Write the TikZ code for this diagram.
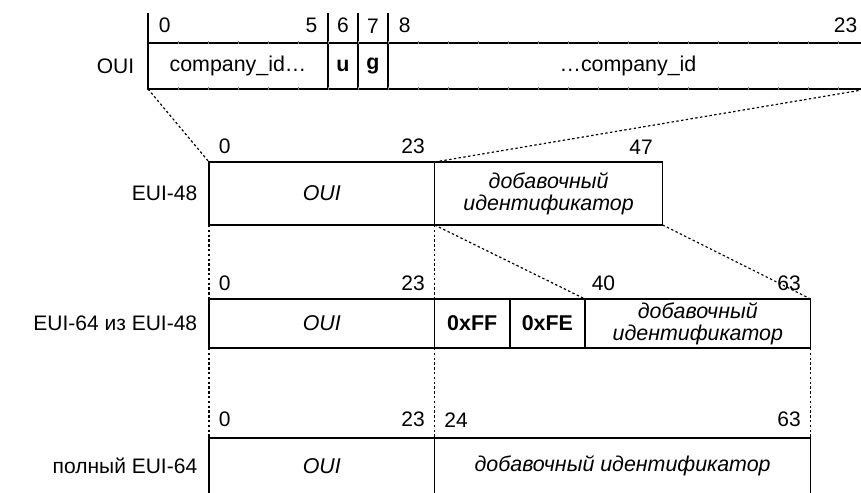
\documentclass[tikz,border=0pt]{standalone}
\usepackage{fontspec}
\setmainfont{Liberation Sans}
\usetikzlibrary{positioning}

\tikzset{
  field/.style={draw, outer sep=0pt, inner sep=0pt, align=center,
    font=\fontsize{10.7}{11}\selectfont},
  num/.style={inner sep=0pt, font=\fontsize{10.5}{12}\selectfont},
  dots/.style={line width=0.6pt, dash pattern=on 1.2pt off 1.2pt},
}

\begin{document}
\begin{tikzpicture}[x=0.5pt, y=0.5pt, line width=0.8pt]
\useasboundingbox (0,0) rectangle (861,492);

% OUI, bit by bit
\node[field, anchor=north west, minimum width=90pt, minimum height=23pt] (cid1) at (148,449) {company\_id…};
\node[field, right=0pt of cid1, minimum width=15pt, minimum height=23pt] (u) {\textbf{u}};
\node[field, right=0pt of u, minimum width=15pt, minimum height=23pt] (g) {\textbf{g}};
\node[field, right=0pt of g, minimum width=240pt, minimum height=23pt] (cid2) {…company\_id};
\node[num, left=6.5pt of cid1] (oui) {OUI};
\foreach \n in {cid1,u,g,cid2}
  \draw (\n.north west) -- ++(0,30);
\foreach \k in {1,...,23}
  \draw[gray, line width=0.4pt] (148+30*\k,447.5) -- ++(0,3) (148+30*\k,401.5) -- ++(0,3);
\node[num, above right=4.5pt and 5pt of cid1.north west] (b0) {0};
\node[num, above left=4.5pt and 5pt of cid1.north east] (b5) {5};
\node[num, above=4.5pt of u.north] (b6) {6};
\node[num, above=4.5pt of g.north] (b7) {7};
\node[num, above right=4.5pt and 5pt of cid2.north west] (b8) {8};
\node[num, above left=4.5pt and 5pt of cid2.north east] (b23) {23};

% EUI-48
\node[field, anchor=north west, minimum width=112.8pt, minimum height=31.5pt] (e48oui) at (209,330) {\itshape OUI};
\node[field, right=0pt of e48oui, minimum width=114pt, minimum height=31.5pt] (e48ext) {\itshape добавочный\\\itshape идентификатор};
\node[num, left=5.5pt of e48oui] (l48) {EUI-48};
\node[num, above right=3.5pt and 4.5pt of e48oui.north west] (e48n0) {0};
\node[num, above left=3.5pt and 4.5pt of e48oui.north east] (e48n23) {23};
\node[num, above left=3.5pt and 4.5pt of e48ext.north east] (e48n47) {47};

% EUI-64 из EUI-48
\node[field, anchor=north west, minimum width=112.8pt, minimum height=24.5pt] (e64oui) at (209,193) {\itshape OUI};
\node[field, right=0pt of e64oui, minimum width=37.6pt, minimum height=24.5pt] (ff) {\textbf{0xFF}};
\node[field, right=0pt of ff, minimum width=37.6pt, minimum height=24.5pt] (fe) {\textbf{0xFE}};
\node[field, right=0pt of fe, minimum width=112.8pt, minimum height=24.5pt] (e64ext) {\itshape добавочный\\\itshape идентификатор};
\node[num, left=5.5pt of e64oui] (l64) {EUI-64 из EUI-48};
\node[num, above right=3.5pt and 4.5pt of e64oui.north west] (e64n0) {0};
\node[num, above left=3.5pt and 4.5pt of e64oui.north east] (e64n23) {23};
\node[num, above right=3.5pt and 3pt of e64ext.north west] (e64n40) {40};
\node[num, above left=3.5pt and 4.5pt of e64ext.north east] (e64n63) {63};

% полный EUI-64
\node[field, anchor=north west, minimum width=112.8pt, minimum height=28pt] (fulloui) at (209,54) {\itshape OUI};
\node[field, right=0pt of fulloui, minimum width=188pt, minimum height=28pt] (fullext) {\itshape добавочный идентификатор};
\node[num, left=5.5pt of fulloui] (lfull) {полный EUI-64};
\node[num, above right=5pt and 4.5pt of fulloui.north west] (fn0) {0};
\node[num, above left=5pt and 4.5pt of fulloui.north east] (fn23) {23};
\node[num, above right=5pt and 4.5pt of fullext.north west] (fn24) {24};
\node[num, above left=5pt and 4.5pt of fullext.north east] (fn63) {63};

% dotted guides between the rows
\draw[dots] (cid1.south west) -- (e48oui.north west);
\draw[dots] (cid2.south east) -- (e48oui.north east);
\draw[dots] (e48oui.south west) -- (e64oui.north west);
\draw[dots] (e48oui.south east) -- (e64oui.north east);
\draw[dots] (e48ext.south west) -- (e64ext.north west);
\draw[dots] (e48ext.south east) -- (e64ext.north east);
\draw[dots] (e64oui.south west) -- (fulloui.north west);
\draw[dots] (e64oui.south east) -- (fulloui.north east);
\draw[dots] (e64ext.south east) -- (fullext.north east);
\end{tikzpicture}
\end{document}
